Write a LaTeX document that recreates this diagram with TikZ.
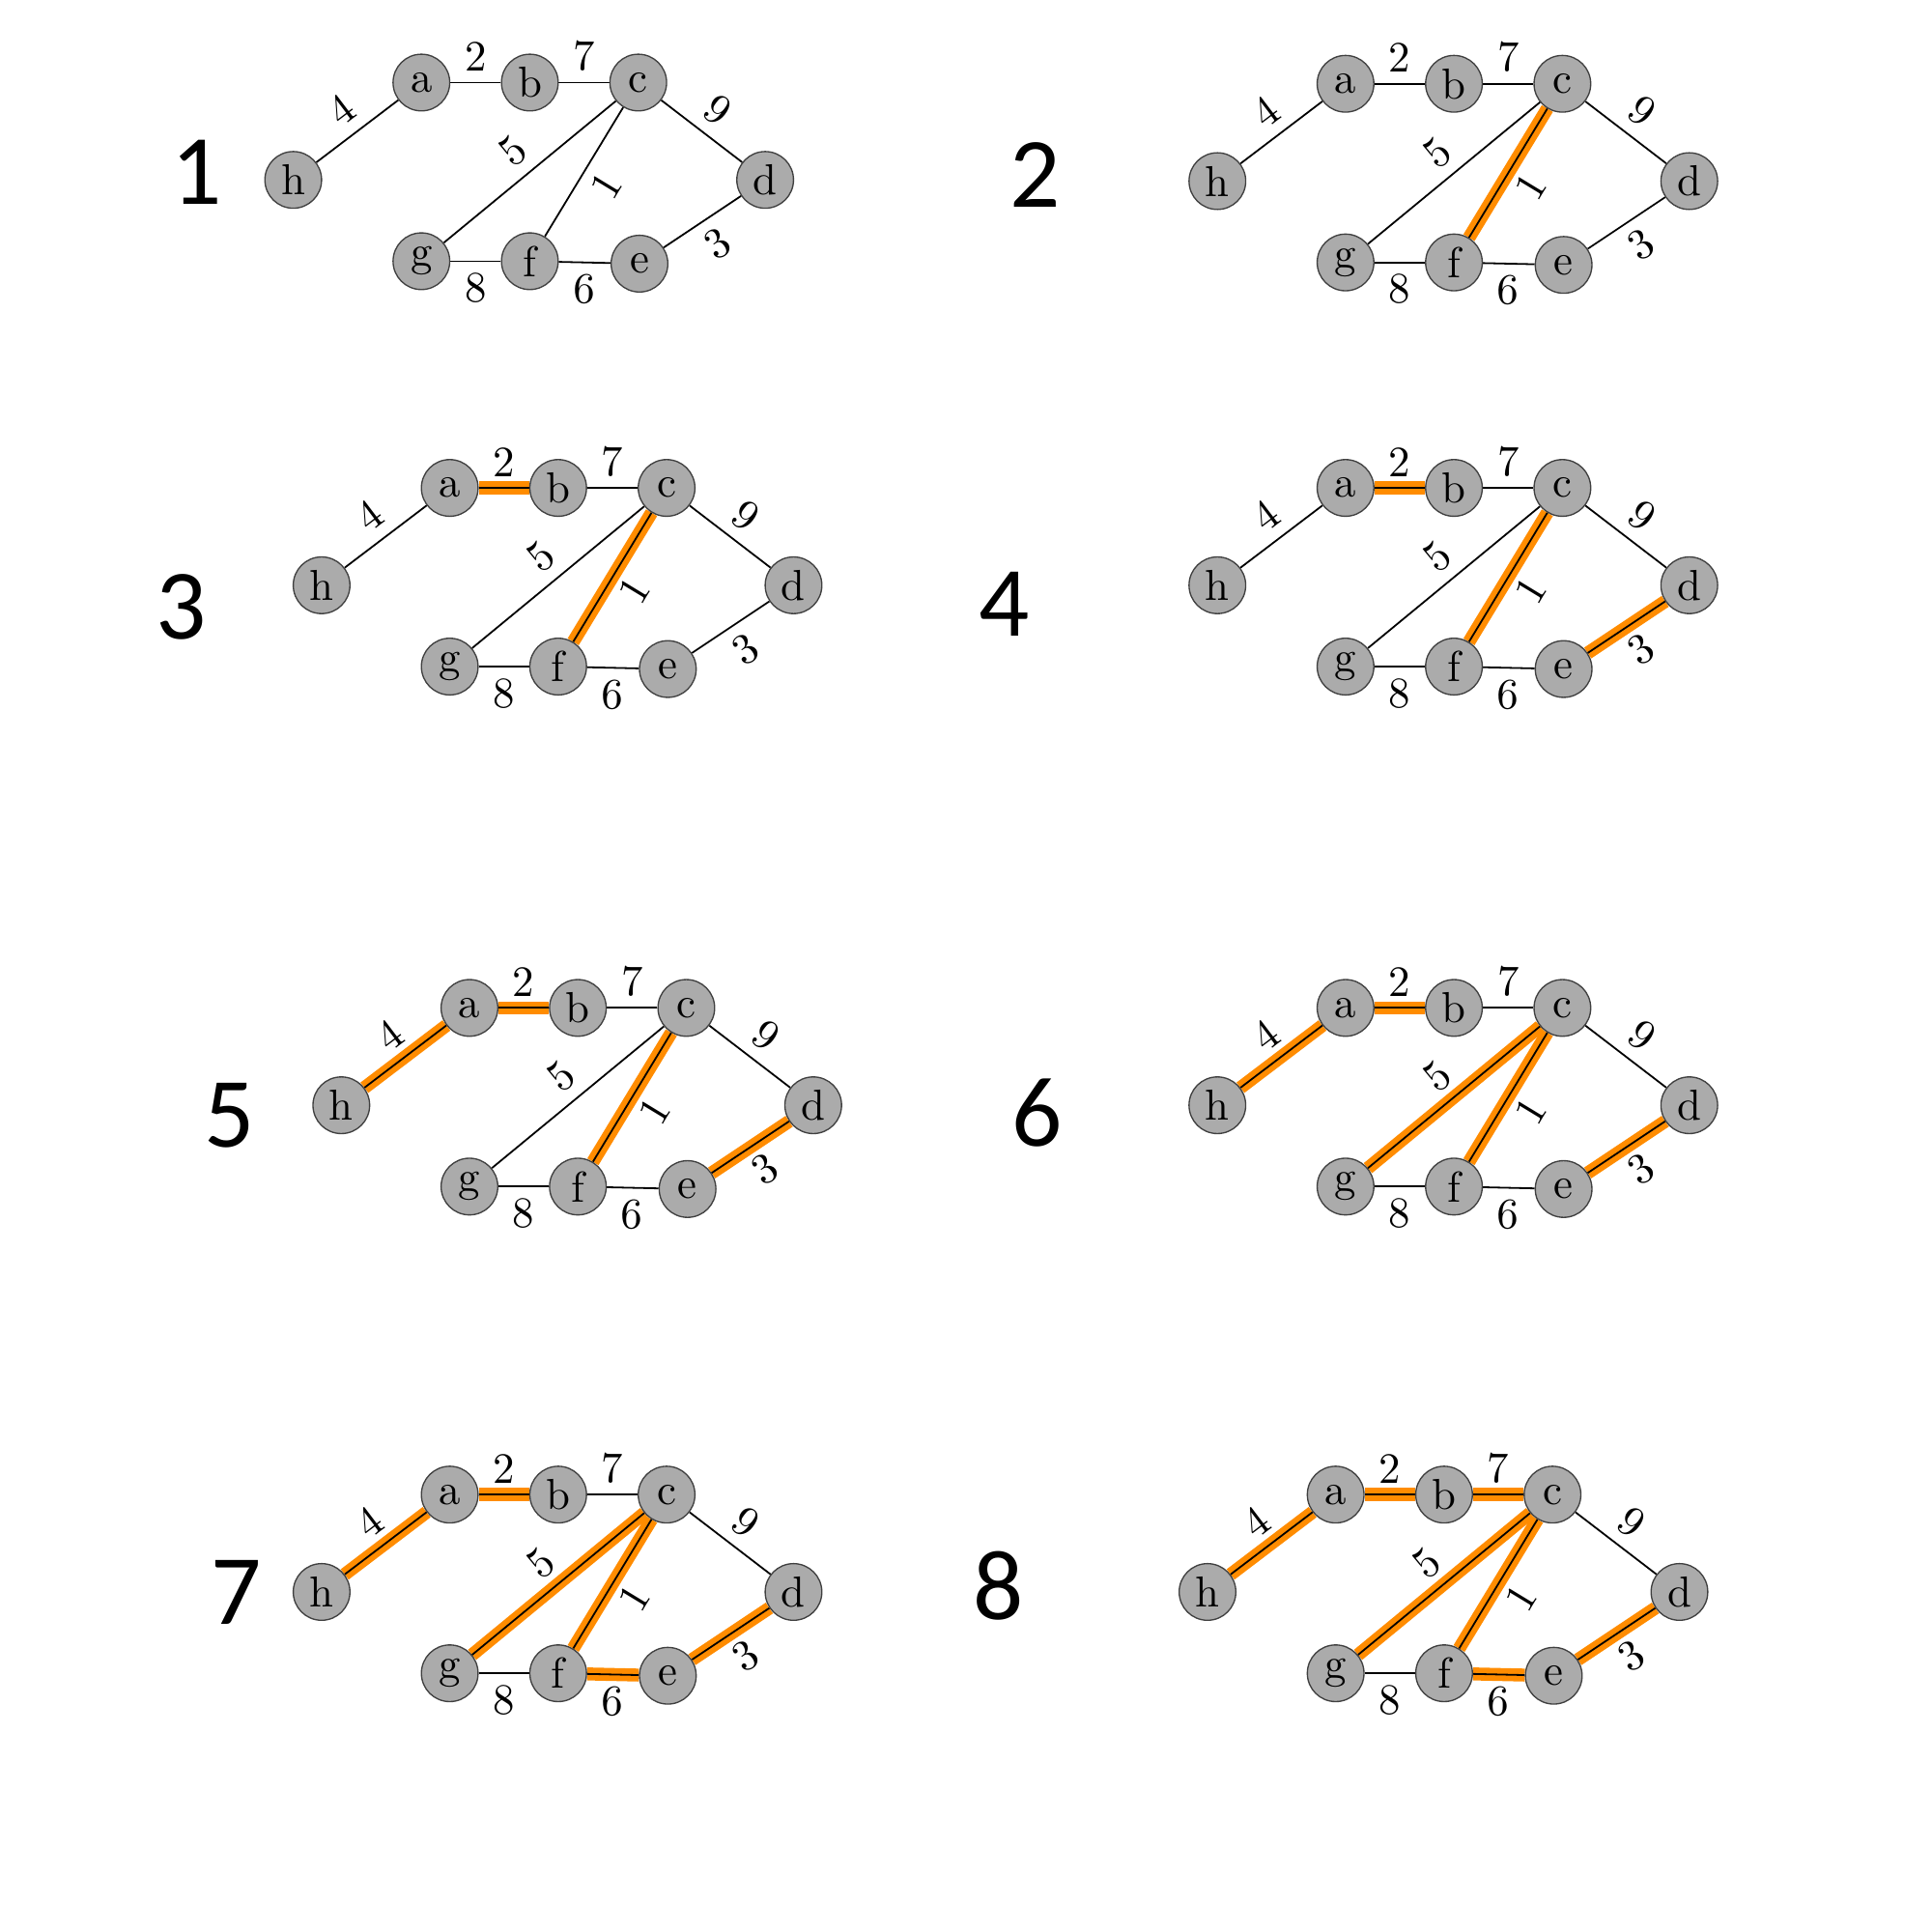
\documentclass[tikz,border=0pt]{standalone}
\usepackage{fontspec}
\newfontfamily\numfont{Carlito}
\usetikzlibrary{backgrounds}
\definecolor{vgrey}{HTML}{ABABAB}
\definecolor{corange}{HTML}{FF8C00}
\tikzset{
  every picture/.style={line width=0.5pt},
  vertex/.style={circle, draw=black!75, line width=0.3pt, fill=vgrey, minimum size=4.6mm, inner sep=0pt},
  wlabel/.style={sloped, inner sep=2.5pt},
  chosen/.style={preaction={draw=corange, line width=3pt}},
  stepnum/.style={font=\numfont\fontsize{23}{26}\selectfont},
}
\begin{document}
\begin{tikzpicture}
  \useasboundingbox (0,0) rectangle (15.68,-15.68);
  % panel, position of h, position of the step number
  \foreach \p/\hx/\hy/\nx/\ny in {
      1/2.38/1.46/1.60/1.40, 2/9.88/1.47/8.40/1.42,
      3/2.61/4.75/1.47/4.93, 4/9.88/4.75/8.15/4.90,
      5/2.77/8.97/1.86/9.05, 6/9.88/8.97/8.42/9.03,
      7/2.61/12.92/1.92/12.92, 8/9.80/12.92/8.10/12.87} {
    \node[stepnum] (n\p) at (\nx,-\ny) {\p};
    \begin{scope}[shift={(\hx,-\hy)}]
      \foreach \v/\x/\y in {h/0/0, a/1.04/0.79, b/1.92/0.79, c/2.80/0.79,
          d/3.83/0, g/1.04/-0.66, f/1.92/-0.66, e/2.81/-0.68}
        \node[vertex] (\v\p) at (\x,\y) {\v};
      % an edge is taken from step w+1 on
      \begin{scope}[on background layer]
        \foreach \u/\v/\w/\side in {h/a/4/above, a/b/2/above, b/c/7/above,
            c/d/9/above, g/c/5/above, f/c/1/below, e/d/3/below,
            g/f/8/below, f/e/6/below} {
          \ifnum\w<\p
            \draw[chosen] (\u\p) -- node[wlabel, \side] {\w} (\v\p);
          \else
            \draw (\u\p) -- node[wlabel, \side] {\w} (\v\p);
          \fi
        }
      \end{scope}
    \end{scope}
  }
\end{tikzpicture}
\end{document}
